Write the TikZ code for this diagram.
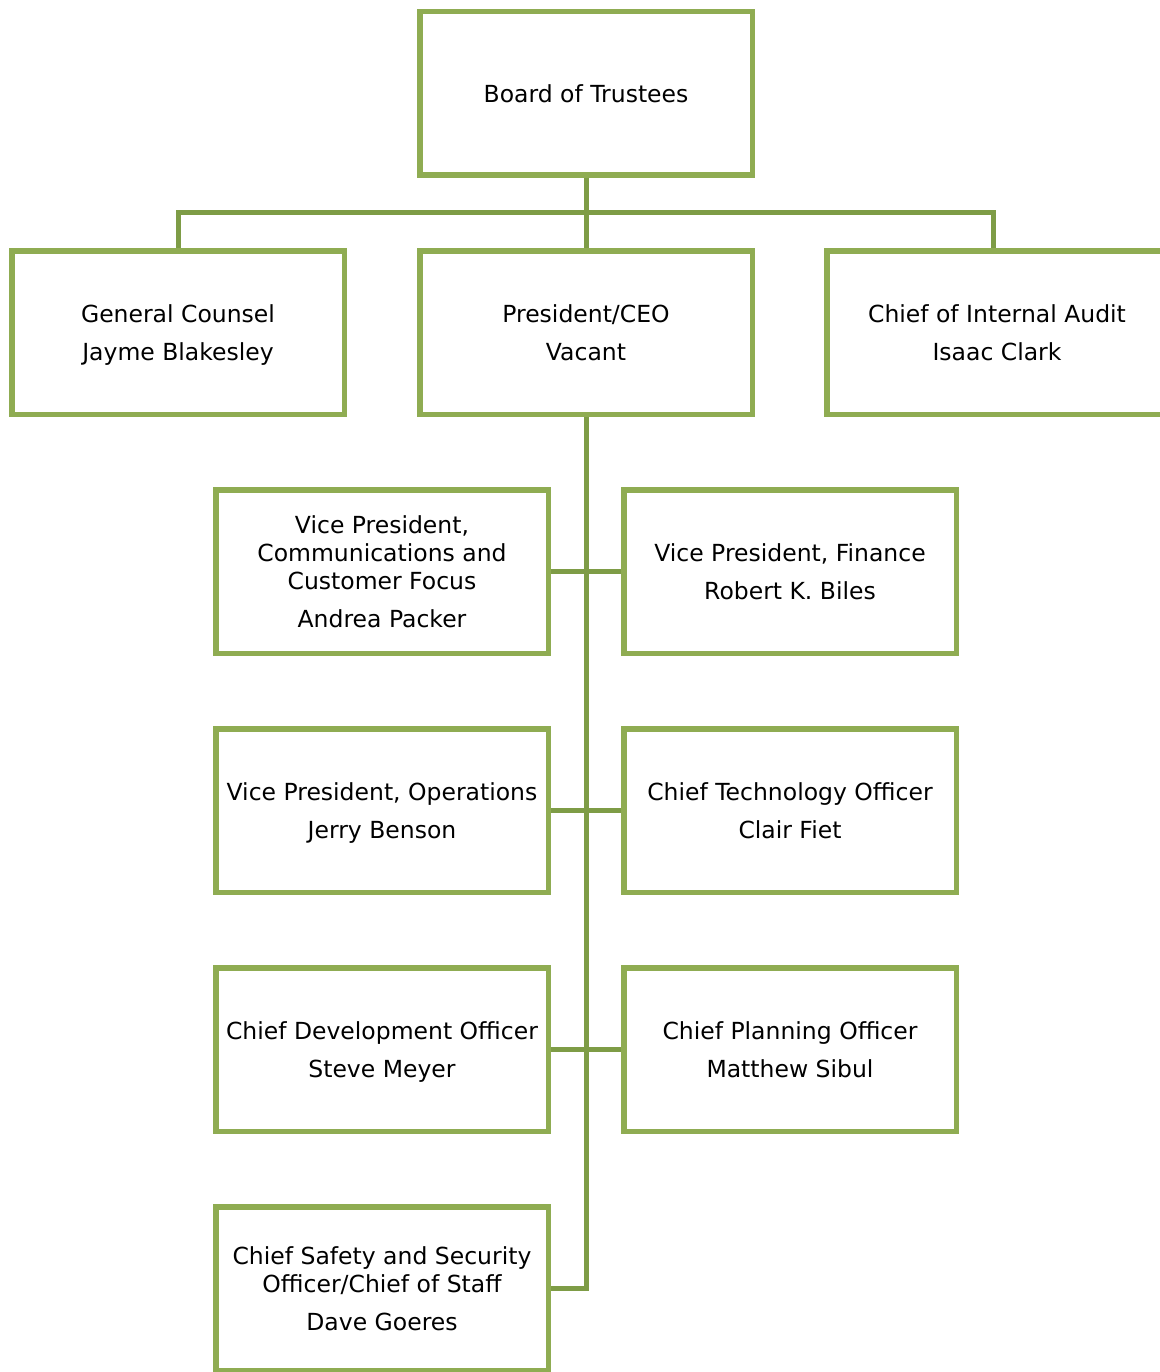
\documentclass[tikz,border=0pt]{standalone}
\usepackage{fontspec}
\setmainfont{DejaVu Sans}
\usetikzlibrary{positioning}
\definecolor{boxgreen}{RGB}{143,172,82}
\definecolor{linkgreen}{RGB}{126,156,70}
\tikzset{
  box/.style={draw=boxgreen,line width=5.5pt,fill=white,minimum width=332.5pt,
    minimum height=163.5pt,inner sep=0pt,align=center,text depth=0pt,
    font=\fontsize{23.5}{28}\selectfont},
  link/.style={draw=linkgreen,line width=5pt}
}
\begin{document}
\begin{tikzpicture}[x=1pt,y=-1pt,on grid,node distance=239pt and 408pt]
  \useasboundingbox (0,0) rectangle (1159,1372);

  \node[box]		(bot)	at (586,93.5)		{Board of Trustees};
  \node[box]		(ceo)	[below=of bot]		{President/CEO\\[10pt]Vacant};
  \node[box]		(gc)	[left=of ceo]		{General Counsel\\[10pt]Jayme Blakesley};
  \node[box,minimum width=340pt]	(ia)	[right=411pt of ceo]	{Chief of Internal Audit\\[10pt]Isaac Clark};

  \node[box]		(vpc)	[below left=239pt and 204pt of ceo]	{Vice President,\\Communications and\\Customer Focus\\[10pt]Andrea Packer};
  \node[box]		(vpf)	[below right=239pt and 204pt of ceo]	{Vice President, Finance\\[10pt]Robert K. Biles};
  \node[box]		(vpo)	[below=of vpc]		{Vice President, Operations\\[10pt]Jerry Benson};
  \node[box]		(cto)	[below=of vpf]		{Chief Technology Officer\\[10pt]Clair Fiet};
  \node[box]		(cdo)	[below=of vpo]		{Chief Development Officer\\[10pt]Steve Meyer};
  \node[box]		(cpo)	[below=of cto]		{Chief Planning Officer\\[10pt]Matthew Sibul};
  \node[box]		(css)	[below=of cdo]		{Chief Safety and Security\\Officer/Chief of Staff\\[10pt]Dave Goeres};

  \coordinate (bus) at (586,213);

  \draw[link] (bot.south) -- (ceo.north);
  \draw[link] (gc.north) |- (bus) -| ([xshift=-4pt]ia.north);
  \draw[link] (ceo.south) |- (css.east);
  \draw[link] (vpc.east) -- (vpf.west);
  \draw[link] (vpo.east) -- (cto.west);
  \draw[link] (cdo.east) -- (cpo.west);
\end{tikzpicture}
\end{document}
